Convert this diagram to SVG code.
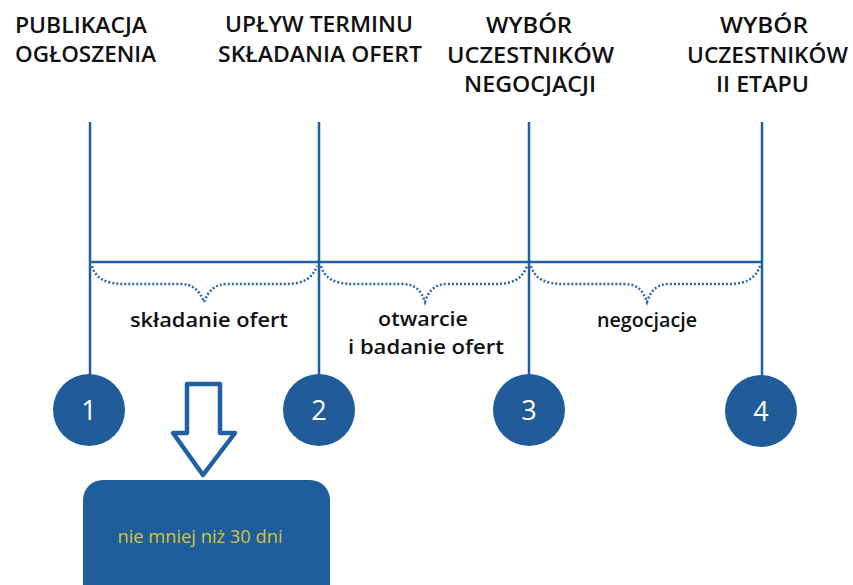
<svg xmlns="http://www.w3.org/2000/svg" width="853" height="585" viewBox="0 0 853 585">
<style>
.t{font-family:"Open Sans","Liberation Sans",sans-serif;font-weight:600;font-size:22px;fill:#111}
.m{text-anchor:middle}
.l{font-family:"Open Sans","Liberation Sans",sans-serif;font-weight:600;font-size:20px;fill:#111;text-anchor:middle}
.n{font-family:"Open Sans","Liberation Sans",sans-serif;font-size:27px;fill:#fff;text-anchor:middle}
.ln{stroke:#2160a0;stroke-width:2.5;fill:none}
.br{stroke:#2c68a8;stroke-width:2.5;fill:none;stroke-dasharray:2 2}
.c{fill:#1f5c99}
</style>
<g id="connectors">
<line class="ln" x1="90" y1="122" x2="90" y2="380"/>
<line class="ln" x1="319" y1="122" x2="319" y2="380"/>
<line class="ln" x1="529" y1="122" x2="529" y2="380"/>
<line class="ln" x1="762" y1="122" x2="762" y2="380"/>
<line class="ln" x1="90" y1="262" x2="762" y2="262"/>
</g>
<g id="braces">
<path class="br" d="M92,266 C96,279 106,284 125,284 L180,284 C193,284 199,290 204,302 C209,290 215,284 228,284 L285,284 C303,284 312,279 317,266"/>
<path class="br" d="M321,266 C325,279 335,284 354,284 L402,284 C415,284 421,290 425,302 C429,290 435,284 448,284 L495,284 C513,284 522,279 527,266"/>
<path class="br" d="M531,266 C535,279 545,284 564,284 L624,284 C637,284 643,290 647,302 C651,290 657,284 670,284 L728,284 C746,284 755,279 760,266"/>
</g>
<g id="titles">
<text class="t" x="15" y="33" textLength="132" lengthAdjust="spacingAndGlyphs">PUBLIKACJA</text>
<text class="t" x="15" y="62" textLength="141" lengthAdjust="spacingAndGlyphs">OGŁOSZENIA</text>
<text class="t" x="225" y="32" textLength="188" lengthAdjust="spacingAndGlyphs">UPŁYW TERMINU</text>
<text class="t" x="218" y="62" textLength="204" lengthAdjust="spacingAndGlyphs">SKŁADANIA OFERT</text>
<text class="t" x="486" y="33" textLength="86" lengthAdjust="spacingAndGlyphs">WYBÓR</text>
<text class="t" x="447" y="63" textLength="167" lengthAdjust="spacingAndGlyphs">UCZESTNIKÓW</text>
<text class="t" x="464" y="92" textLength="132" lengthAdjust="spacingAndGlyphs">NEGOCJACJI</text>
<text class="t" x="720" y="33" textLength="88" lengthAdjust="spacingAndGlyphs">WYBÓR</text>
<text class="t" x="687" y="63" textLength="161" lengthAdjust="spacingAndGlyphs">UCZESTNIKÓW</text>
<text class="t" x="716" y="92" textLength="93" lengthAdjust="spacingAndGlyphs">II ETAPU</text>
</g>
<g id="labels">
<text class="l" x="209" y="327" textLength="158" lengthAdjust="spacingAndGlyphs">składanie ofert</text>
<text class="l" x="423" y="326" textLength="90" lengthAdjust="spacingAndGlyphs">otwarcie</text>
<text class="l" x="426" y="354" textLength="156" lengthAdjust="spacingAndGlyphs">i badanie ofert</text>
<text class="l" x="647" y="327" textLength="100" lengthAdjust="spacingAndGlyphs">negocjacje</text>
</g>
<g id="node1"><circle class="c" cx="89" cy="410" r="36"/><text class="n" x="89" y="420">1</text></g>
<g id="node2"><circle class="c" cx="319" cy="410" r="36"/><text class="n" x="319" y="420">2</text></g>
<g id="node3"><circle class="c" cx="529" cy="410" r="36"/><text class="n" x="529" y="420">3</text></g>
<g id="node4"><circle class="c" cx="761" cy="411" r="36"/><text class="n" x="761" y="421">4</text></g>
<g id="arrow"><path d="M187,384 L220,384 L220,433 L235,433 L203,475 L173,433 L187,433 Z" fill="#fff" stroke="#2160a0" stroke-width="4.5" stroke-linejoin="round"/></g>
<g id="box">
<rect x="83" y="480" width="247" height="130" rx="20" fill="#1f5e9c"/>
<text x="200" y="543" text-anchor="middle" font-family="Open Sans, Liberation Sans, sans-serif" font-size="18" fill="#d6c23a" textLength="165" lengthAdjust="spacingAndGlyphs">nie mniej niż 30 dni</text>
</g>
</svg>
